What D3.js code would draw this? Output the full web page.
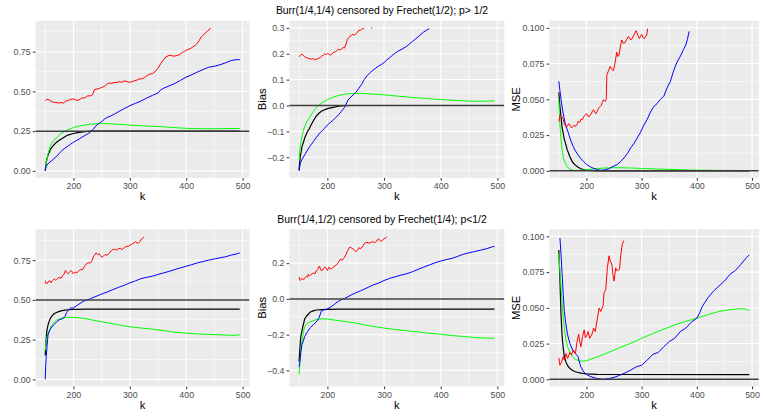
<!DOCTYPE html>
<html lang="en">
<head>
<meta charset="UTF-8">
<title>Burr censored by Frechet</title>
<style>
  body { margin: 0; background: #fff; }
  svg { display: block; font-family: "Liberation Sans", Arial, Helvetica, sans-serif; }
  .tick text { fill: #4d4d4d; font-size: 8.8px; }
  .tick line { stroke: #333; }
  .domain { display: none; }
</style>
</head>
<body>
<svg id="chart" width="764" height="417"></svg>
<script src="https://cdn.jsdelivr.net/npm/d3@7"></script>
<script>
// ---- data ----
const titles = ["Burr(1/4,1/4) censored by Frechet(1/2); p> 1/2",
                "Burr(1/4,1/2) censored by Frechet(1/4); p<1/2"];
const yTitles = ["", "Bias", "MSE"];
const kLimits = [150, 495];
const kTicks = [200, 300, 400, 500];
const kMinor = [150, 250, 350, 450];

// row 1, estimates
const red1 = [[150,.443],[155,.451],[161,.436],[165,.432],[169,.430],[174,.427],[178,.430],[182,.426],[186,.438],[190,.442],[193,.447],[199,.453],[204,.447],[208,.443],[212,.452],[216,.460],[220,.458],[225,.472],[231,.472],[234,.480],[237,.511],[242,.515],[246,.519],[250,.525],[255,.532],[259,.545],[263,.553],[268,.550],[272,.557],[277,.556],[281,.561],[286,.558],[290,.566],[295,.562],[299,.557],[303,.560],[308,.566],[313,.572],[317,.578],[322,.580],[326,.587],[331,.600],[335,.608],[340,.612],[344,.621],[350,.646],[355,.676],[360,.700],[364,.718],[370,.727],[375,.724],[379,.722],[384,.726],[388,.731],[393,.745],[397,.752],[403,.765],[407,.768],[411,.778],[416,.790],[420,.803],[423,.820],[426,.839],[429,.852],[432,.862],[435,.870],[438,.881],[441,.888],[443,.900]];
const blue1 = [[150,0],[151,.02],[152,.03],[155,.045],[160,.06],[165,.075],[170,.09],[175,.11],[180,.13],[185,.143],[190,.155],[195,.168],[200,.18],[205,.19],[210,.20],[215,.212],[220,.222],[225,.232],[230,.245],[235,.26],[240,.285],[245,.298],[250,.31],[255,.325],[260,.337],[265,.343],[270,.352],[275,.362],[280,.372],[285,.382],[290,.392],[295,.40],[300,.41],[310,.425],[320,.44],[330,.458],[340,.475],[350,.49],[355,.51],[360,.52],[370,.535],[380,.55],[390,.57],[400,.59],[410,.605],[420,.622],[430,.638],[440,.652],[450,.658],[460,.668],[470,.68],[480,.695],[490,.70],[495,.70]];
const green1 = [[150,0],[152,.05],[155,.108],[158,.145],[161,.17],[165,.192],[172,.214],[178,.235],[184,.246],[190,.258],[200,.273],[210,.282],[219,.288],[230,.293],[240,.296],[250,.297],[260,.297],[280,.293],[300,.288],[325,.283],[355,.278],[380,.272],[403,.267],[430,.265],[450,.265],[470,.266],[495,.267]];
const black1 = [[150,0],[152,.06],[155,.10],[160,.14],[165,.162],[170,.18],[175,.193],[180,.204],[185,.215],[190,.225],[200,.235],[210,.242],[220,.247],[230,.25],[495,.25]];

// row 1, bias
const red2 = [[150,.188],[153,.195],[155,.199],[158,.192],[160,.188],[163,.185],[165,.183],[168,.180],[170,.181],[173,.178],[175,.183],[178,.176],[180,.178],[183,.181],[185,.183],[188,.186],[190,.191],[193,.195],[195,.199],[198,.197],[200,.201],[203,.198],[205,.194],[208,.199],[210,.204],[213,.206],[215,.209],[218,.214],[220,.217],[223,.215],[225,.219],[228,.224],[230,.222],[233,.238],[235,.255],[238,.262],[240,.268],[243,.272],[245,.275],[248,.271],[250,.276],[253,.283],[255,.289],[258,.291],[260,.294],[263,.297],[265,.299],[266,null],[277,.299],[279,.300]];
const blue2 = [[150,-.252],[152,-.225],[155,-.209],[160,-.19],[165,-.172],[170,-.155],[175,-.14],[180,-.125],[185,-.11],[190,-.099],[195,-.088],[200,-.075],[205,-.066],[210,-.057],[215,-.046],[220,-.035],[225,-.022],[230,-.008],[232,0],[236,.02],[240,.03],[245,.04],[250,.05],[255,.065],[260,.08],[265,.1],[270,.115],[275,.126],[280,.136],[285,.144],[290,.152],[295,.158],[300,.166],[305,.176],[310,.185],[315,.194],[320,.203],[325,.21],[330,.216],[335,.222],[340,.229],[345,.238],[350,.247],[355,.256],[360,.265],[365,.275],[370,.284],[375,.291],[380,.297]];
const green2 = [[150,-.21],[152,-.16],[155,-.12],[158,-.095],[160,-.08],[165,-.058],[170,-.041],[175,-.024],[180,-.009],[185,.001],[190,.01],[200,.023],[210,.032],[220,.039],[230,.043],[240,.046],[250,.047],[260,.047],[275,.045],[300,.041],[325,.036],[350,.031],[375,.027],[400,.023],[425,.02],[450,.017],[470,.016],[485,.017],[495,.018]];
const black2 = [[150,-.25],[151,-.22],[152,-.2],[155,-.16],[158,-.14],[160,-.125],[163,-.11],[165,-.1],[168,-.09],[170,-.08],[175,-.06],[180,-.042],[185,-.03],[190,-.021],[200,-.012],[210,-.007],[220,-.003],[230,-.001],[240,0],[495,0]];

// row 1, MSE
const red3 = [[150,.0345],[152,.039],[155,.038],[158,.036],[160,.033],[163,.031],[165,.031],[168,.033],[170,.032],[173,.030],[175,.031],[178,.032],[180,.031],[183,.0325],[185,.0345],[188,.034],[190,.036],[193,.036],[195,.038],[198,.039],[200,.040],[202,.039],[204,.0376],[207,.039],[209,.040],[211,.042],[213,.0427],[215,.041],[217,.040],[220,.042],[222,.0439],[225,.045],[227,.046],[229,.048],[231,.0498],[234,.0486],[236,.05],[237,.067],[240,.070],[243,.073],[246,.071],[249,.070],[252,.076],[255,.083],[257,.08],[259,.081],[262,.088],[264,.0915],[267,.089],[270,.0897],[273,.092],[276,.094],[279,.092],[282,.092],[286,.095],[290,.098],[293,.095],[296,.0925],[298,.094],[300,.0955],[303,.093],[305,.0925],[307,.094],[309,.0944],[310,.097],[311,.0995]];
const blue3 = [[150,.0627],[152,.056],[155,.047],[158,.04],[161,.034],[164,.03],[167,.027],[170,.023],[173,.02],[176,.017],[180,.014],[185,.011],[190,.0085],[195,.0065],[200,.0045],[210,.0022],[220,.0008],[226,.0004],[232,.0006],[240,.0014],[248,.003],[256,.0045],[262,.0065],[268,.009],[274,.012],[280,.016],[286,.019],[292,.023],[298,.027],[304,.032],[310,.036],[316,.041],[322,.045],[328,.047],[334,.05],[340,.052],[346,.058],[352,.0625],[358,.07],[364,.076],[370,.080],[376,.085],[380,.088],[383,.092],[386,.0975]];
const green3 = [[150,.05],[151,.04],[152,.032],[154,.022],[156,.015],[158,.01],[160,.007],[163,.0045],[166,.0025],[170,.0012],[175,.0005],[180,.0003],[190,.0004],[200,.0008],[210,.0012],[220,.0016],[230,.0019],[240,.0021],[250,.0022],[260,.0022],[280,.002],[300,.0017],[325,.0013],[350,.001],[375,.0007],[400,.0005],[450,.0003],[495,.0002]];
const black3 = [[150,.055],[152,.045],[154,.038],[156,.03],[158,.026],[160,.022],[163,.018],[165,.015],[168,.012],[170,.01],[173,.0075],[175,.006],[178,.0048],[180,.004],[185,.0025],[190,.0015],[195,.0009],[200,.0005],[210,.0001],[220,0],[495,0]];

// row 2, estimates
const red4 = [[150,.621],[152,.600],[155,.613],[158,.621],[160,.607],[163,.621],[166,.632],[168,.625],[170,.628],[173,.638],[176,.642],[178,.636],[180,.649],[183,.659],[186,.685],[188,.672],[190,.664],[193,.676],[196,.685],[198,.675],[200,.664],[203,.676],[206,.670],[210,.685],[213,.691],[216,.690],[220,.712],[223,.727],[226,.733],[230,.733],[233,.748],[236,.775],[238,.785],[240,.796],[243,.786],[246,.790],[248,.778],[250,.769],[253,.775],[256,.786],[260,.781],[263,.792],[265,.803],[268,.810],[270,.817],[273,.820],[275,.813],[278,.818],[280,.822],[283,.825],[285,.817],[288,.822],[290,.828],[293,.835],[295,.838],[298,.836],[300,.845],[303,.850],[305,.853],[308,.860],[310,.866],[313,.858],[315,.855],[318,.868],[320,.881],[323,.888],[325,.895]];
const blue4 = [[150,0],[151,.1],[152,.15],[153,.2],[155,.28],[157,.30],[160,.322],[165,.343],[170,.36],[175,.375],[180,.381],[185,.396],[188,.42],[190,.432],[195,.449],[200,.449],[205,.462],[210,.474],[215,.485],[220,.495],[225,.50],[230,.508],[240,.522],[250,.537],[260,.55],[270,.565],[280,.579],[290,.592],[300,.607],[310,.62],[320,.634],[330,.642],[340,.649],[350,.66],[360,.67],[370,.68],[380,.691],[390,.702],[400,.712],[410,.722],[420,.733],[430,.742],[440,.75],[450,.758],[460,.765],[470,.772],[480,.782],[490,.79],[495,.796]];
const green4 = [[150,.18],[151,.22],[152,.245],[153,.265],[155,.29],[158,.315],[160,.331],[163,.345],[165,.355],[170,.373],[175,.38],[180,.386],[190,.39],[200,.39],[210,.387],[220,.383],[240,.369],[260,.356],[280,.343],[300,.331],[320,.323],[340,.316],[360,.306],[380,.297],[400,.291],[420,.286],[440,.283],[460,.28],[480,.277],[495,.28]];
const black4 = [[150,.15],[151,.22],[152,.27],[153,.31],[155,.343],[157,.365],[160,.39],[163,.403],[165,.41],[168,.417],[170,.421],[175,.428],[180,.433],[185,.436],[190,.438],[200,.44],[210,.441],[220,.442],[495,.442]];

// row 2, bias
const red5 = [[150,.122],[152,.103],[155,.115],[158,.107],[160,.118],[163,.126],[165,.122],[166,.137],[168,.130],[170,.133],[173,.141],[176,.145],[178,.14],[180,.156],[183,.165],[186,.184],[188,.165],[190,.156],[193,.171],[196,.178],[198,.172],[200,.160],[203,.178],[206,.165],[208,.172],[210,.178],[213,.184],[216,.19],[218,.198],[220,.208],[223,.222],[226,.216],[228,.225],[230,.231],[233,.25],[236,.272],[238,.282],[240,.291],[243,.284],[246,.278],[248,.27],[250,.265],[253,.272],[256,.287],[258,.28],[260,.284],[263,.298],[265,.31],[268,.315],[270,.317],[273,.312],[275,.314],[278,.318],[280,.321],[283,.315],[285,.317],[288,.33],[290,.336],[293,.328],[295,.321],[298,.33],[300,.336],[303,.342],[305,.349]];
const blue5 = [[150,-.38],[151,-.36],[152,-.33],[153,-.3],[155,-.257],[158,-.23],[160,-.21],[165,-.182],[170,-.16],[175,-.145],[180,-.13],[185,-.107],[187,-.09],[188,-.079],[190,-.066],[195,-.06],[200,-.056],[205,-.047],[210,-.036],[215,-.023],[220,-.013],[225,-.004],[230,.002],[240,.019],[250,.034],[260,.047],[270,.062],[280,.077],[290,.088],[300,.103],[310,.115],[320,.124],[330,.133],[340,.141],[350,.152],[360,.165],[370,.178],[380,.19],[390,.202],[400,.212],[410,.22],[420,.227],[430,.238],[440,.25],[450,.258],[460,.265],[470,.272],[480,.28],[490,.29],[495,.295]];
const green5 = [[150,-.423],[151,-.38],[152,-.34],[153,-.3],[155,-.24],[158,-.18],[160,-.154],[163,-.142],[165,-.135],[170,-.128],[175,-.122],[180,-.116],[190,-.111],[200,-.113],[210,-.117],[220,-.122],[235,-.128],[250,-.135],[265,-.145],[280,-.154],[300,-.163],[320,-.171],[340,-.178],[360,-.185],[380,-.192],[400,-.198],[420,-.205],[440,-.21],[460,-.216],[480,-.219],[495,-.22]];
const black5 = [[150,-.35],[151,-.3],[152,-.25],[153,-.21],[155,-.18],[157,-.15],[160,-.111],[163,-.097],[165,-.09],[170,-.073],[175,-.067],[180,-.062],[190,-.06],[200,-.058],[220,-.057],[495,-.057]];

// row 2, MSE
const red6 = [[150,.015],[152,.0099],[155,.0122],[158,.0158],[160,.0134],[163,.018],[166,.0146],[170,.0188],[173,.017],[176,.0205],[180,.018],[183,.0264],[186,.0315],[188,.026],[190,.0228],[193,.03],[196,.0346],[198,.029],[200,.03],[203,.0334],[206,.0287],[210,.0315],[213,.0358],[216,.0334],[220,.0428],[223,.0499],[226,.0475],[230,.051],[232,.0605],[235,.0628],[238,.078],[241,.0864],[243,.0828],[246,.0805],[248,.0734],[250,.0687],[253,.078],[256,.0758],[260,.077],[262,.0864],[265,.0946],[268,.097]];
const blue6 = [[152,.0988],[154,.0875],[156,.0734],[158,.0593],[160,.0475],[163,.038],[166,.031],[170,.0252],[175,.0205],[180,.0181],[185,.0158],[188,.011],[190,.0087],[195,.0052],[200,.0035],[205,.0024],[210,.0016],[220,.0005],[230,0],[240,.0005],[250,.0014],[260,.0028],[270,.0045],[280,.0064],[290,.0087],[300,.0099],[310,.0134],[320,.0174],[330,.0188],[340,.0228],[350,.0264],[360,.0287],[370,.0334],[380,.0358],[390,.04],[400,.0428],[405,.0464],[410,.051],[420,.057],[430,.0616],[440,.0652],[450,.0687],[460,.0734],[470,.0762],[480,.0805],[490,.0852],[495,.087]];
const green6 = [[150,.088],[151,.082],[152,.075],[154,.065],[155,.059],[157,.048],[158,.0428],[160,.0358],[163,.0275],[166,.0228],[170,.0188],[175,.0158],[180,.0139],[190,.0127],[200,.013],[220,.0158],[240,.0188],[260,.0221],[280,.0252],[300,.0287],[320,.032],[340,.035],[360,.0381],[380,.0405],[400,.0428],[420,.0452],[440,.0475],[460,.0487],[480,.0494],[490,.049],[495,.048]];
const black6 = [[150,.0904],[151,.08],[152,.07],[153,.057],[154,.045],[156,.03],[158,.022],[160,.0158],[163,.012],[166,.0095],[170,.0077],[175,.0062],[180,.0053],[190,.0043],[200,.0038],[220,.0035],[250,.0034],[495,.0033]];

// y limits, ticks, reference lines per panel
const yLimits = [[0, .9], [-.2525, .3], [0, .1], [0, .9], [-.45, .35], [0, .1]];
const yTicks = [[0, .25, .5, .75], [-.2, -.1, 0, .1, .2, .3], [0, .025, .05, .075, .1],
                [0, .25, .5, .75], [-.4, -.2, 0, .2], [0, .025, .05, .075, .1]];
const yMinor = [[.125, .375, .625, .875], [-.25, -.15, -.05, .05, .15, .25], [.0125, .0375, .0625, .0875],
                [.125, .375, .625, .875], [-.3, -.1, .1, .3], [.0125, .0375, .0625, .0875]];
const yDigits = [2, 1, 3, 2, 1, 3];
const refLines = [.25, 0, 0, .5, 0, 0];

const seriesColors = ["#000000", "#00ff00", "#0000ff", "#ff0000"];
const panelSeries = [[black1, green1, blue1, red1], [black2, green2, blue2, red2], [black3, green3, blue3, red3],
                     [black4, green4, blue4, red4], [black5, green5, blue5, red5], [black6, green6, blue6, red6]];

// ---- layout ----
const colLeft = [35.5, 289.3, 549.3];
const colRight = [249.5, 504.3, 758.8];
const rowTop = [20.7, 229.2];
const rowBottom = [178, 386.5];
const rowStep = 208.5;

const svg = d3.select("#chart");
const fmtMinus = (s) => s.replace("-", "\u2212");

titles.forEach((t, r) => {
  svg.append("text")
    .attr("x", 382).attr("y", 14 + r * rowStep)
    .attr("text-anchor", "middle")
    .attr("font-size", "10.4px")
    .attr("fill", "#000")
    .text(t);
});

const pad = (lo, hi) => [lo - (hi - lo) * 0.05, hi + (hi - lo) * 0.05];

for (let i = 0; i < 6; i++) {
  const r = Math.floor(i / 3), c = i % 3;
  const x0 = colLeft[c], x1 = colRight[c], y0 = rowTop[r], y1 = rowBottom[r];

  const x = d3.scaleLinear().domain(pad(...kLimits)).range([x0, x1]);
  const y = d3.scaleLinear().domain(pad(...yLimits[i])).range([y1, y0]);

  const g = svg.append("g");

  g.append("rect")
    .attr("x", x0).attr("y", y0)
    .attr("width", x1 - x0).attr("height", y1 - y0)
    .attr("fill", "#ebebeb");

  // grid
  const grid = g.append("g").attr("stroke", "#fff");
  kMinor.forEach(v => grid.append("line").attr("x1", x(v)).attr("x2", x(v)).attr("y1", y0).attr("y2", y1).attr("stroke-width", 0.55));
  yMinor[i].forEach(v => grid.append("line").attr("x1", x0).attr("x2", x1).attr("y1", y(v)).attr("y2", y(v)).attr("stroke-width", 0.55));
  kTicks.forEach(v => grid.append("line").attr("x1", x(v)).attr("x2", x(v)).attr("y1", y0).attr("y2", y1).attr("stroke-width", 1.1));
  yTicks[i].forEach(v => grid.append("line").attr("x1", x0).attr("x2", x1).attr("y1", y(v)).attr("y2", y(v)).attr("stroke-width", 1.1));

  // series
  const clipId = "clip" + i;
  g.append("clipPath").attr("id", clipId)
    .append("rect").attr("x", x0).attr("y", y0).attr("width", x1 - x0).attr("height", y1 - y0);

  const line = d3.line()
    .defined(d => d[1] != null)
    .x(d => x(d[0]))
    .y(d => y(d[1]));

  const plot = g.append("g").attr("clip-path", `url(#${clipId})`);
  panelSeries[i].forEach((s, j) => {
    plot.append("path")
      .datum(s)
      .attr("d", line)
      .attr("fill", "none")
      .attr("stroke", seriesColors[j])
      .attr("stroke-width", j === 0 ? 1.2 : 1.0)
      .attr("stroke-linejoin", "round");
  });

  plot.append("line")
    .attr("x1", x0).attr("x2", x1)
    .attr("y1", y(refLines[i])).attr("y2", y(refLines[i]))
    .attr("stroke", "#3d3d3d")
    .attr("stroke-width", 1.5);

  // axes
  g.append("g")
    .attr("transform", `translate(0,${y1})`)
    .call(d3.axisBottom(x).tickValues(kTicks).tickFormat(d3.format("d")).tickSize(2.7).tickSizeOuter(0).tickPadding(2.2));

  g.append("g")
    .attr("transform", `translate(${x0},0)`)
    .call(d3.axisLeft(y).tickValues(yTicks[i])
      .tickFormat(v => fmtMinus(v.toFixed(yDigits[i])))
      .tickSize(2.7).tickSizeOuter(0).tickPadding(2.2));

  g.append("text")
    .attr("x", (x0 + x1) / 2).attr("y", 200 + r * rowStep)
    .attr("text-anchor", "middle")
    .attr("font-size", "11.3px")
    .text("k");

  if (yTitles[c]) {
    const tx = c === 1 ? 266 : 520.4;
    const ty = (y0 + y1) / 2;
    g.append("text")
      .attr("transform", `translate(${tx},${ty}) rotate(-90)`)
      .attr("text-anchor", "middle")
      .attr("font-size", "11.3px")
      .text(yTitles[c]);
  }
}
</script>
</body>
</html>
